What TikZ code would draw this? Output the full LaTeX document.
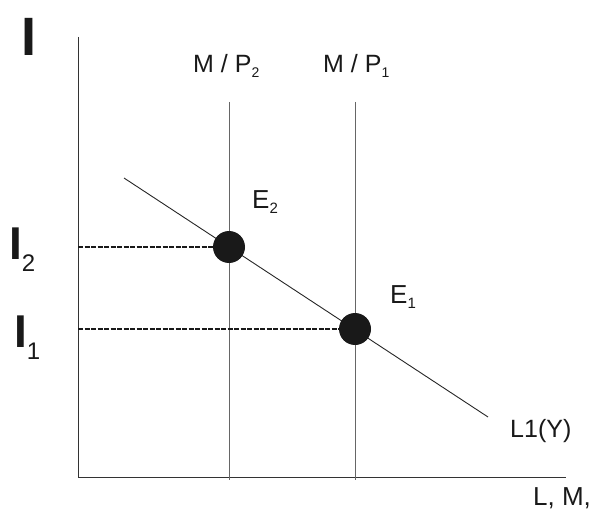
\documentclass[tikz,border=0pt]{standalone}
\usepackage{fontspec}
\setmainfont{Liberation Sans}
\newcommand\fsz[1]{\fontsize{#1}{#1}\selectfont}
\begin{document}
\begin{tikzpicture}[x=1pt,y=-1pt,
  axisline/.style={draw=black!80, line width=1pt},
  curveline/.style={draw=black!60, line width=1pt},
  demandline/.style={draw=black!85, line width=0.9pt},
  dashline/.style={draw=black!90, line width=2.4pt, dash pattern=on 5pt off 1.5pt},
  eqdot/.style={circle, fill=black!90, draw=none, minimum size=32pt, inner sep=0pt},
  lbl/.style={inner sep=0pt, anchor=base west, text=black!90}]
\useasboundingbox (0,0) rectangle (595,511);
% axes
\coordinate (ytop) at (78,37);
\coordinate (origin) at (78,477);
\coordinate (xend) at (566,477);
\draw[axisline] (ytop) -- (origin) -- (xend);
% vertical money supply lines
\coordinate (mp2top) at (229,102);
\coordinate (mp2bot) at (229,480);
\coordinate (mp1top) at (355,102);
\coordinate (mp1bot) at (355,480);
\draw[curveline] (mp2top) -- (mp2bot);
\draw[curveline] (mp1top) -- (mp1bot);
% demand line
\coordinate (lstart) at (124,178);
\coordinate (lend) at (488,417);
\draw[demandline] (lstart) -- (lend);
% equilibrium points
\node[eqdot] (E2) at (229,247) {};
\node[eqdot] (E1) at (355,329) {};
\coordinate (i2) at (78,247);
\coordinate (i1) at (78,329);
\draw[dashline] (i2) -- (E2.west);
\draw[dashline] (i1) -- (E1.west);
% labels
\node[lbl] (lI) at (21,56) {\fsz{54}\bfseries I};
\node[lbl] (lI2) at (9,259) {\fsz{46}\bfseries I\mdseries\raisebox{-12pt}{\fsz{24}2}};
\node[lbl] (lI1) at (14,347) {\fsz{46}\bfseries I\mdseries\raisebox{-12pt}{\fsz{24}1}};
\node[lbl] (lmp2) at (193,73) {\fsz{25}M / P\raisebox{-5pt}{\fsz{14}2}};
\node[lbl] (lmp1) at (323,73) {\fsz{25}M / P\raisebox{-5pt}{\fsz{14}1}};
\node[lbl] (lE2) at (252,208) {\fsz{26}E\raisebox{-5pt}{\fsz{15}2}};
\node[lbl] (lE1) at (390,303) {\fsz{26}E\raisebox{-5pt}{\fsz{15}1}};
\node[lbl] (lL) at (510,437) {\fsz{25}L1(Y)};
\node[lbl] (lLM) at (533,505) {\fsz{26}L, M,};
\end{tikzpicture}
\end{document}
